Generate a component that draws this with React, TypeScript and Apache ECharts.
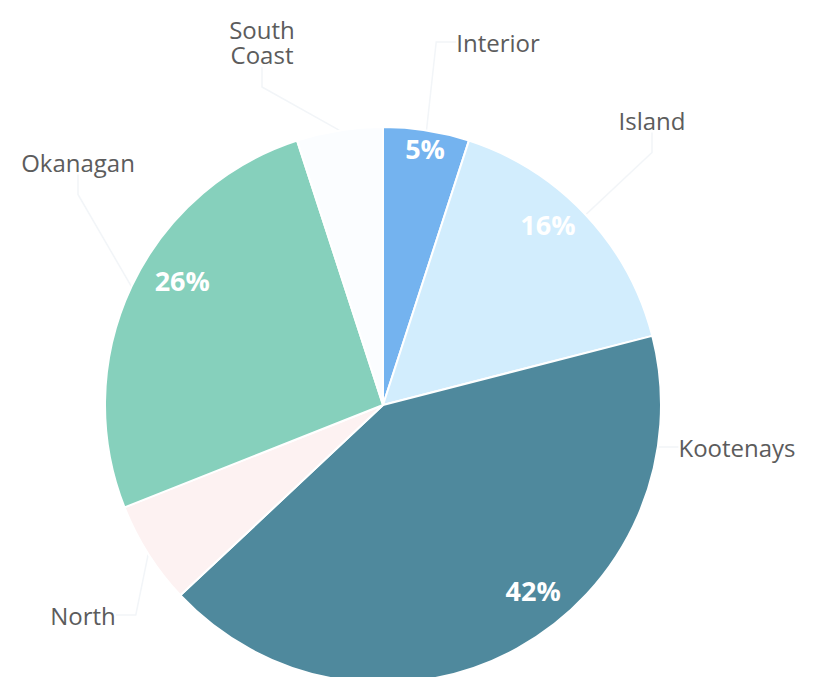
import React, { useEffect, useRef } from "react";
import * as echarts from "echarts";

// Regional shares, clockwise from 12 o'clock
const regions = ["Interior", "Island", "Kootenays", "North", "Okanagan", "South Coast"];
const shares = [5, 16, 42, 6, 26, 5];

// Slice fills, same order as regions
const sliceColors = ["#74b3ef", "#d2edfd", "#4f899d", "#fdf2f2", "#86d0bc", "#fbfdff"];

// Percentage labels are only legible on the darker slices
const shareLabelShown = [true, true, true, false, true, false];

// Where each region name sits (chart pixel coordinates, text centre)
const nameSpots: [number, number][] = [
  [498, 42],
  [652, 120],
  [737, 447],
  [83, 615],
  [78, 162],
  [262, 42],
];

// Small nudges of the percentage labels from their default inside spot
const shareNudges: [number, number][] = [
  [3, -10],
  [-17, -10],
  [30, -33],
  [0, 0],
  [25, -18],
  [0, 0],
];

export default function App() {
  const ref = useRef<HTMLDivElement>(null);

  useEffect(() => {
    if (!ref.current) return;
    const chart = echarts.init(ref.current, undefined, { renderer: "svg" });
    const data = regions.map((name, i) => ({
      name,
      value: shares[i],
      itemStyle: { color: sliceColors[i] },
    }));

    chart.setOption({
      animation: false,
      backgroundColor: "#ffffff",
      series: [
        {
          type: "pie",
          center: [383, 405],
          radius: [0, 278],
          startAngle: 90,
          clockwise: true,
          avoidLabelOverlap: false,
          silent: true,
          itemStyle: { borderColor: "#ffffff", borderWidth: 2 },
          label: {
            show: true,
            position: "outside",
            formatter: (p: any) => p.name.replace(" ", "\n"),
            color: "#5c5c5c",
            fontFamily: "Open Sans",
            fontSize: 24,
            lineHeight: 25,
            align: "center",
          },
          labelLine: {
            show: true,
            length: 30,
            length2: 20,
            lineStyle: { color: "#f2f5f8", width: 1.5 },
          },
          labelLayout: (params: any) => {
            const s = nameSpots[params.dataIndex];
            return { x: s[0], y: s[1], align: "center", verticalAlign: "middle" };
          },
          data,
        },
        {
          type: "pie",
          center: [383, 405],
          radius: [205, 288],
          startAngle: 90,
          clockwise: true,
          silent: true,
          avoidLabelOverlap: false,
          itemStyle: { color: "transparent", borderWidth: 0 },
          label: {
            show: true,
            position: "inside",
            formatter: (p: any) => (shareLabelShown[p.dataIndex] ? `${p.percent}%` : ""),
            color: "#ffffff",
            fontFamily: "Open Sans",
            fontWeight: "bold",
            fontSize: 27,
          },
          labelLine: { show: false },
          labelLayout: (params: any) => {
            const n = shareNudges[params.dataIndex];
            return { dx: n[0], dy: n[1] };
          },
          data: regions.map((name, i) => ({ name, value: shares[i] })),
        },
      ],
    });

    return () => chart.dispose();
  }, []);

  return (
    <div
      ref={ref}
      style={{ position: "fixed", left: 0, top: 0, width: 813, height: 677 }}
    />
  );
}
